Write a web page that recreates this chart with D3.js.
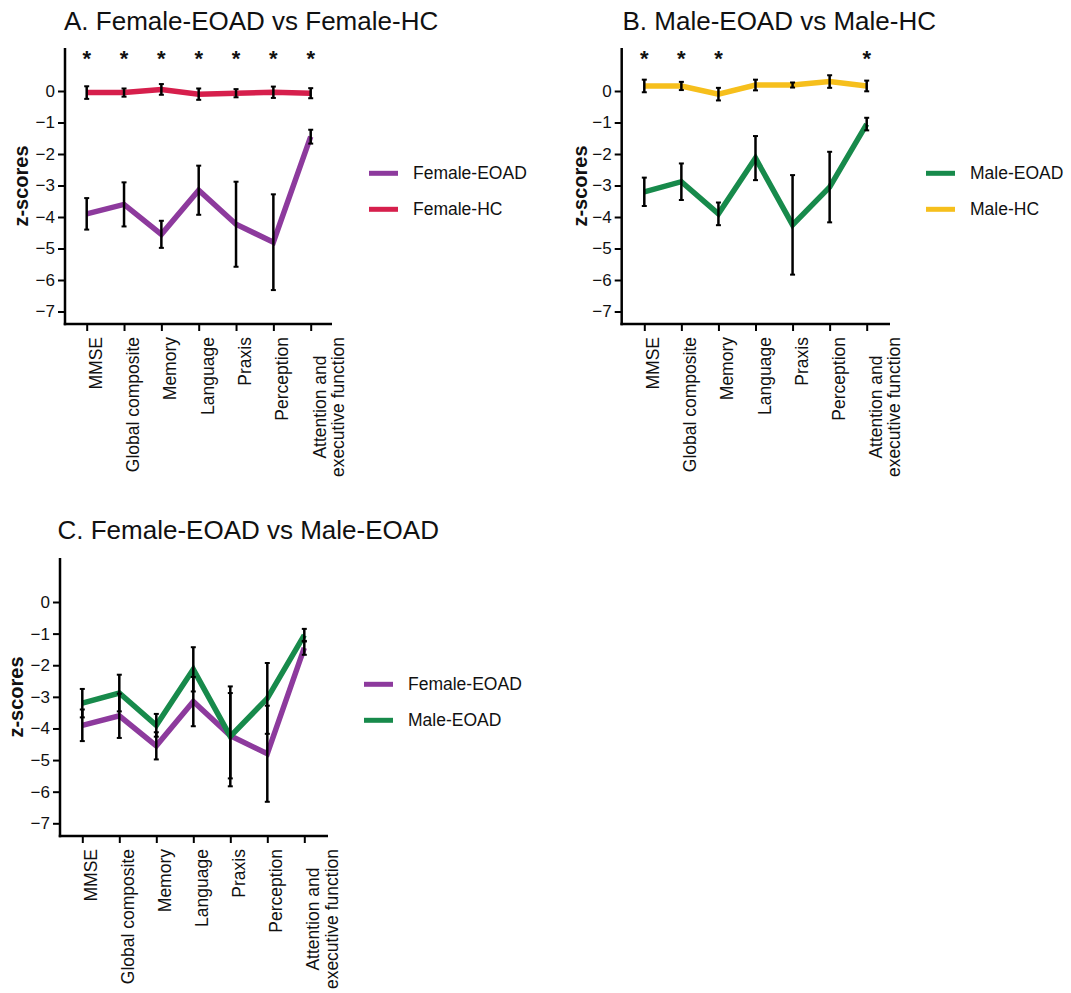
<!DOCTYPE html>
<html>
<head>
<meta charset="utf-8">
<script src="https://cdn.jsdelivr.net/npm/d3@7"></script>
<style>
  html, body { margin: 0; padding: 0; background: #fff; }
  svg { display: block; font-family: "Liberation Sans", Arial, Helvetica, sans-serif; }
</style>
</head>
<body>
<svg id="chart" width="1071" height="993"></svg>
<script>
// Cognitive domains on the x axis
const categories = ["MMSE", "Global composite", "Memory", "Language", "Praxis", "Perception", "Attention and executive function"];
const categoryLines = [["MMSE"], ["Global composite"], ["Memory"], ["Language"], ["Praxis"], ["Perception"], ["Attention and", "executive function"]];
const yTicks = [-7, -6, -5, -4, -3, -2, -1, 0];

// Mean z-scores and error half-widths per group
const femaleEOAD = [-3.9, -3.6, -4.55, -3.15, -4.23, -4.8, -1.45];
const femaleEOADErr = [0.5, 0.7, 0.43, 0.78, 1.35, 1.52, 0.22];
const femaleHC = [-0.05, -0.05, 0.05, -0.1, -0.07, -0.04, -0.07];
const femaleHCErr = [0.2, 0.13, 0.17, 0.18, 0.13, 0.18, 0.16];
const maleEOAD = [-3.2, -2.88, -3.9, -2.13, -4.25, -3.05, -1.05];
const maleEOADErr = [0.45, 0.58, 0.36, 0.7, 1.58, 1.12, 0.2];
const maleHC = [0.16, 0.16, -0.1, 0.19, 0.19, 0.3, 0.16];
const maleHCErr = [0.2, 0.13, 0.2, 0.17, 0.08, 0.2, 0.17];

// Domains marked as significant
const sigFemale = ["MMSE", "Global composite", "Memory", "Language", "Praxis", "Perception", "Attention and executive function"];
const sigMale = ["MMSE", "Global composite", "Memory", "Attention and executive function"];

const colors = {
  "Female-EOAD": "#8d3a9d",
  "Female-HC": "#d61f4c",
  "Male-EOAD": "#178a4b",
  "Male-HC": "#f6bf1c"
};

const panels = [
  {
    title: "A. Female-EOAD vs Female-HC", titleX: 64, titleY: 29.5,
    axisX: 65, axisTop: 48, axisBottom: 324, yZero: 91, yMin: 311.5,
    xFirst: 86.7, xLast: 310.7, xEnd: 332, yLabelX: 27.5,
    legendX: 369, legendY: 173.3,
    series: [
      { name: "Female-EOAD", values: femaleEOAD, err: femaleEOADErr },
      { name: "Female-HC", values: femaleHC, err: femaleHCErr }
    ],
    sig: sigFemale
  },
  {
    title: "B. Male-EOAD vs Male-HC", titleX: 622.5, titleY: 29.5,
    axisX: 621.7, axisTop: 48, axisBottom: 324, yZero: 91, yMin: 311.5,
    xFirst: 644.3, xLast: 866.7, xEnd: 890, yLabelX: 587,
    legendX: 926, legendY: 173.3,
    series: [
      { name: "Male-EOAD", values: maleEOAD, err: maleEOADErr },
      { name: "Male-HC", values: maleHC, err: maleHCErr }
    ],
    sig: sigMale
  },
  {
    title: "C. Female-EOAD vs Male-EOAD", titleX: 57.5, titleY: 539,
    axisX: 60, axisTop: 558, axisBottom: 836, yZero: 602, yMin: 823.3,
    xFirst: 82.3, xLast: 304.3, xEnd: 328, yLabelX: 23,
    legendX: 364, legendY: 684.3,
    series: [
      { name: "Female-EOAD", values: femaleEOAD, err: femaleEOADErr },
      { name: "Male-EOAD", values: maleEOAD, err: maleEOADErr }
    ],
    sig: []
  }
];

const svg = d3.select("#chart");

panels.forEach(p => {
  const g = svg.append("g");

  const x = d3.scalePoint().domain(categories).range([p.xFirst, p.xLast]);
  const y = d3.scaleLinear().domain([-7, 0]).range([p.yMin, p.yZero]);

  // Title
  g.append("text")
    .attr("x", p.titleX).attr("y", p.titleY)
    .attr("font-size", 26).attr("fill", "#111")
    .text(p.title);

  // Y axis
  const yAxis = g.append("g")
    .attr("transform", `translate(${p.axisX},0)`)
    .call(d3.axisLeft(y).tickValues(yTicks).tickSize(7).tickPadding(3).tickFormat(d3.format("d")));
  yAxis.select(".domain").remove();
  yAxis.selectAll(".tick line").attr("stroke", "#000").attr("stroke-width", 2);
  yAxis.selectAll(".tick text").attr("font-size", 17).attr("fill", "#111")
    .attr("font-family", "Liberation Sans, Arial, sans-serif");

  // X axis ticks
  const xAxis = g.append("g")
    .attr("transform", `translate(0,${p.axisBottom})`)
    .call(d3.axisBottom(x).tickSize(7).tickFormat(""));
  xAxis.select(".domain").remove();
  xAxis.selectAll(".tick line").attr("stroke", "#000").attr("stroke-width", 2);

  // Axis lines
  g.append("line")
    .attr("x1", p.axisX).attr("x2", p.axisX)
    .attr("y1", p.axisTop).attr("y2", p.axisBottom + 1.25)
    .attr("stroke", "#000").attr("stroke-width", 2.5);
  g.append("line")
    .attr("x1", p.axisX - 1.25).attr("x2", p.xEnd)
    .attr("y1", p.axisBottom).attr("y2", p.axisBottom)
    .attr("stroke", "#000").attr("stroke-width", 2.5);

  // Category labels, rotated
  const labelFont = 17.5;
  const gap = 13;
  categories.forEach((c, i) => {
    const lines = categoryLines[i];
    const lg = g.append("g");
    const texts = lines.map((ln, j) =>
      lg.append("text")
        .attr("font-size", labelFont).attr("fill", "#111")
        .attr("text-anchor", "middle")
        .text(ln)
    );
    const maxLen = d3.max(texts, t => t.node().getComputedTextLength());
    const cy = p.axisBottom + gap + maxLen / 2;
    texts.forEach((t, j) => {
      const bx = x(c) + 15 + j * 18.5;
      t.attr("transform", `translate(${bx},${cy}) rotate(-90)`);
    });
  });

  // Y axis title
  const yMid = (p.axisTop + p.axisBottom) / 2;
  g.append("text")
    .attr("transform", `translate(${p.yLabelX},${yMid}) rotate(-90)`)
    .attr("text-anchor", "middle")
    .attr("font-size", 20).attr("font-weight", "bold").attr("fill", "#111")
    .text("z-scores");

  // Lines
  const line = d3.line().x((d, i) => x(categories[i])).y(d => y(d));
  p.series.forEach(s => {
    g.append("path")
      .datum(s.values)
      .attr("d", line)
      .attr("fill", "none")
      .attr("stroke", colors[s.name])
      .attr("stroke-width", 5.5)
      .attr("stroke-linejoin", "miter");
  });

  // Error bars
  p.series.forEach(s => {
    const eb = g.append("g");
    s.values.forEach((v, i) => {
      const cx = x(categories[i]);
      const top = y(v + s.err[i]);
      const bot = y(v - s.err[i]);
      eb.append("line")
        .attr("x1", cx).attr("x2", cx).attr("y1", top).attr("y2", bot)
        .attr("stroke", "#000").attr("stroke-width", 2.5);
      [top, bot].forEach(yy => {
        eb.append("line")
          .attr("x1", cx - 2.5).attr("x2", cx + 2.5).attr("y1", yy).attr("y2", yy)
          .attr("stroke", "#000").attr("stroke-width", 2);
      });
    });
  });

  // Significance markers
  p.sig.forEach(c => {
    g.append("text")
      .attr("x", x(c)).attr("y", p.axisTop + 18)
      .attr("text-anchor", "middle")
      .attr("font-size", 22).attr("font-weight", "bold").attr("fill", "#111")
      .text("*");
  });

  // Legend
  p.series.forEach((s, i) => {
    const ly = p.legendY + i * 36;
    g.append("line")
      .attr("x1", p.legendX).attr("x2", p.legendX + 29)
      .attr("y1", ly).attr("y2", ly)
      .attr("stroke", colors[s.name]).attr("stroke-width", 5);
    g.append("text")
      .attr("x", p.legendX + 44).attr("y", ly)
      .attr("dy", "0.35em")
      .attr("font-size", 17.5).attr("fill", "#111")
      .text(s.name);
  });
});
</script>
</body>
</html>
